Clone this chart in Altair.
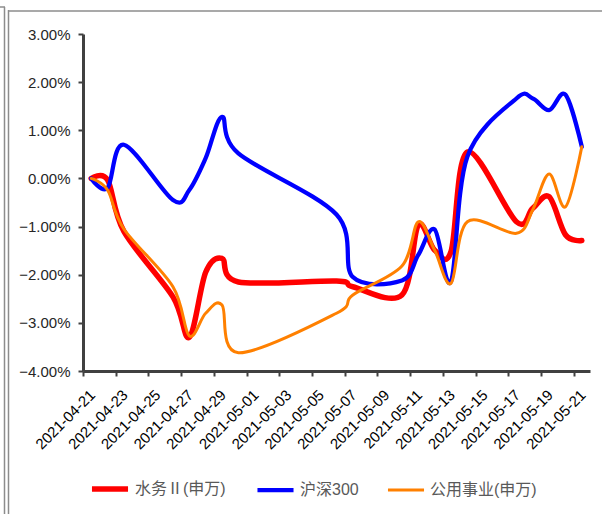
import altair as alt
import pandas as pd

dates = ["2021-04-21", "2021-04-22", "2021-04-23", "2021-04-26", "2021-04-27",
         "2021-04-28", "2021-04-29", "2021-04-30", "2021-05-06", "2021-05-07",
         "2021-05-10", "2021-05-11", "2021-05-12", "2021-05-13", "2021-05-14",
         "2021-05-17", "2021-05-18", "2021-05-19", "2021-05-20", "2021-05-21"]

series_names = ["水务Ⅱ(申万)", "沪深300", "公用事业(申万)"]

# percent values
water = [0.00, -0.03, -1.10, -2.46, -3.30, -1.95, -1.66, -2.15, -2.13, -2.25,
         -2.42, -0.97, -1.49, -1.52, 0.55, -0.90, -0.62, -0.38, -1.17, -1.29]
hs300 = [0.00, -0.20, 0.70, -0.45, -0.24, 0.42, 1.28, 0.52, -0.75, -2.05,
         -2.12, -1.59, -1.06, -2.14, 0.45, 1.66, 1.66, 1.42, 1.74, 0.66]
utility = [0.00, -0.24, -1.05, -2.25, -3.27, -2.80, -2.63, -3.62, -2.80, -2.42,
           -1.82, -0.90, -1.49, -2.18, -0.90, -1.14, -0.65, 0.09, -0.59, 0.66]

tick_dates = ["2021-04-21", "2021-04-23", "2021-04-25", "2021-04-27", "2021-04-29",
              "2021-05-01", "2021-05-03", "2021-05-05", "2021-05-07", "2021-05-09",
              "2021-05-11", "2021-05-13", "2021-05-15", "2021-05-17", "2021-05-19",
              "2021-05-21"]
y_ticks = [-0.04, -0.03, -0.02, -0.01, 0.0, 0.01, 0.02, 0.03]

colors = ["#FF0000", "#0000FF", "#FF8000"]
widths = [5.5, 3, 3]

rows = []
for name, vals in zip(series_names, [water, hs300, utility]):
    for d, v in zip(dates, vals):
        rows.append({"date": (pd.Timestamp(d) + pd.Timedelta(hours=12)).strftime("%Y-%m-%dT%H:%M:%S"),
                     "series": name, "value": v / 100})
df = pd.DataFrame(rows)


def dt(s):
    t = pd.Timestamp(s)
    return alt.DateTime(year=t.year, month=t.month, date=t.day)


font = "Liberation Sans, Noto Sans CJK SC"

x_enc = alt.X("date:T",
              scale=alt.Scale(domain=[dt("2021-04-21"), dt("2021-05-22")]),
              axis=alt.Axis(values=[dt(s) for s in tick_dates], format="%Y-%m-%d",
                            labelAngle=315, labelAlign="right", labelBaseline="middle",
                            labelPadding=16, labelOffset=9, title=None, grid=False,
                            tickSize=5, labelFontSize=15, labelColor="#000000",
                            labelFont=font, domainColor="#404040", tickColor="#404040",
                            domainWidth=3, tickWidth=2, labelOverlap=False))
y_enc = alt.Y("value:Q",
              scale=alt.Scale(domain=[-0.04, 0.03], nice=False),
              axis=alt.Axis(values=y_ticks, format=".2%", title=None, grid=False,
                            tickSize=5, labelFontSize=15, labelColor="#262626",
                            labelFont=font, domainColor="#404040", tickColor="#404040",
                            domainWidth=3, tickWidth=2, labelPadding=8))
color_enc = alt.Color("series:N",
                      scale=alt.Scale(domain=series_names, range=colors),
                      legend=alt.Legend(title=None, orient="none", direction="horizontal",
                                        legendX=6, legendY=434, symbolType="stroke",
                                        symbolSize=1300, labelFontSize=16,
                                        labelColor="#595959", labelFont=font,
                                        columnPadding=22, labelOffset=4,
                                        labelLimit=300))
sw_enc = alt.StrokeWidth("series:N",
                         scale=alt.Scale(domain=series_names, range=widths),
                         legend=None)

base = alt.Chart(df)
layers = []
for name in series_names:
    layers.append(
        base.transform_filter(alt.datum.series == name)
        .mark_line(interpolate="cardinal", strokeCap="round", strokeJoin="round")
        .encode(x=x_enc, y=y_enc, color=color_enc, strokeWidth=sw_enc,
                detail="series:N")
    )

# decorative chart-area frame lines (relative to plot origin)
frame_df = pd.DataFrame({"k": [0]})
frame = alt.Chart(frame_df)
frame_style = dict(color="#8c8c8c", strokeWidth=1.5)
frame_layers = [
    frame.mark_rule(**frame_style).encode(x=alt.value(-74.5), y=alt.value(-24), y2=alt.value(490)),
    frame.mark_rule(**frame_style).encode(x=alt.value(-75), x2=alt.value(530), y=alt.value(-23)),
    frame.mark_rule(**frame_style).encode(x=alt.value(-78.5), y=alt.value(-27), y2=alt.value(490)),
    frame.mark_rule(**frame_style).encode(x=alt.value(-85), x2=alt.value(-78), y=alt.value(-27)),
]

chart = alt.layer(*frame_layers, *layers).properties(
    width=507, height=337,
    autosize=alt.AutoSizeParams(type="none"),
    padding={"left": 83, "top": 34, "right": 12, "bottom": 143},
    background="white",
).configure_view(stroke=None)

chart.save("out.html", embed_options={"renderer": "svg", "actions": False})
